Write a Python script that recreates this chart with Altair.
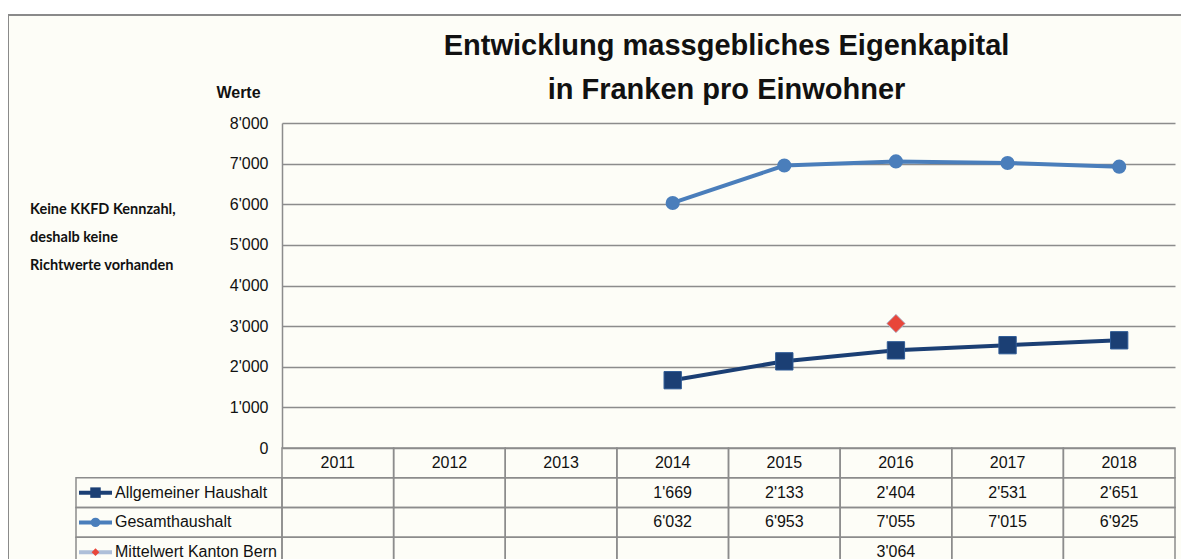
import altair as alt
import pandas as pd

# ---------------- data ----------------
years = ["2011", "2012", "2013", "2014", "2015", "2016", "2017", "2018"]
allgemein = [None, None, None, 1669, 2133, 2404, 2531, 2651]
gesamt = [None, None, None, 6032, 6953, 7055, 7015, 6925]
mittelwert = [None, None, None, None, None, 3064, None, None]
series_names = ["Allgemeiner Haushalt", "Gesamthaushalt", "Mittelwert Kanton Bern"]
series_values = [allgemein, gesamt, mittelwert]
y_ticks = [0, 1000, 2000, 3000, 4000, 5000, 6000, 7000, 8000]
title_lines = ["Entwicklung massgebliches Eigenkapital", "in Franken pro Einwohner"]
note_lines = ["Keine KKFD Kennzahl,", "deshalb keine", "Richtwerte vorhanden"]

# ---------------- styles / layout ----------------
W, H = 893, 325
YMAX = 8000
BAND = W / len(years)
PX = H / YMAX                     # pixels per value unit
ROW_PX = 29.75
ROW = ROW_PX / PX                 # table row height in value units
LEG_X0 = -206 / BAND              # left edge of legend column (x units)
NAVY = "#1B3F74"
STEEL = "#4A7EBB"
LIGHT = "#AEBFD9"
RED = "#E8463A"
GRID = "#8C8C8C"
BG = "#FDFDF7"
FONT = "Liberation Sans Narrow, Arial Narrow, Liberation Sans, Arial"
FS = 16

xs = alt.Scale(domain=[0, len(years)], nice=False, zero=False)
ys = alt.Scale(domain=[0, YMAX], nice=False, zero=False)
y_axis = alt.Axis(
    values=y_ticks, grid=True, gridColor=GRID, gridWidth=1.5,
    domainColor=GRID, domainWidth=1.5, ticks=False,
    labelExpr="replace(format(datum.value, ','), ',', \"'\")",
    labelFont=FONT, labelFontSize=FS, labelColor="#111", labelPadding=14,
    title="Werte", titleAngle=0, titleX=-44, titleY=-31, titleAlign="center",
    titleBaseline="middle", titleFont=FONT, titleFontSize=FS, titleFontWeight="bold",
    titleColor="#111",
)


def X(f):
    return alt.X(f, type="quantitative", scale=xs, axis=None)


def Y(f):
    return alt.Y(f, type="quantitative", scale=ys, axis=y_axis)


# series data
rows = []
for name, vals in zip(series_names, series_values):
    for i, (yr, v) in enumerate(zip(years, vals)):
        if v is not None:
            rows.append({"series": name, "year": yr, "x": i + 0.5, "val": v})
df = pd.DataFrame(rows)

# table cells
cells = []
for r in range(4):
    top, bot = -r * ROW, -(r + 1) * ROW
    for i in range(len(years)):
        cells.append({"x0": i, "x1": i + 1, "val": top, "y1": bot})
    if r > 0:
        cells.append({"x0": LEG_X0, "x1": 0, "val": top, "y1": bot})
cells_df = pd.DataFrame(cells)

# table texts
texts = []
for i, yr in enumerate(years):
    texts.append({"x": i + 0.5, "val": -0.5 * ROW, "label": yr})
for r, vals in enumerate(series_values, start=1):
    for i, v in enumerate(vals):
        if v is not None:
            texts.append({"x": i + 0.5, "val": -(r + 0.5) * ROW,
                          "label": f"{v:,}".replace(",", "'")})
texts_df = pd.DataFrame(texts)

leg_df = pd.DataFrame({
    "series": series_names,
    "val": [-(r + 1.5) * ROW for r in range(3)],
    "xa": [LEG_X0 + 3 / BAND] * 3,
    "xb": [LEG_X0 + 36 / BAND] * 3,
    "xm": [LEG_X0 + 19.5 / BAND] * 3,
    "xt": [LEG_X0 + 39 / BAND] * 3,
})

one = pd.DataFrame({"val": [0]})

# ---------------- layers ----------------
frame = alt.Chart(one).mark_rect(fill=None, stroke="#8A8A8A", strokeWidth=2).encode(
    x=alt.value(-274), x2=alt.value(930), y=alt.value(-108), y2=alt.value(500))
top_strip = alt.Chart(one).mark_rect(fill="white").encode(
    x=alt.value(-274), x2=alt.value(930), y=alt.value(-116), y2=alt.value(-109))

grid_layer = alt.Chart(one).mark_point(opacity=0).encode(y=Y("val"))

cell_layer = alt.Chart(cells_df).mark_rect(
    fillOpacity=0, stroke=GRID, strokeWidth=1.5).encode(
    x=X("x0"), x2="x1:Q", y=Y("val"), y2="y1:Q")

text_layer = alt.Chart(texts_df).mark_text(
    font=FONT, fontSize=FS, color="#111", baseline="middle", align="center").encode(
    x=X("x"), y=Y("val"), text="label:N")

color_scale = alt.Scale(domain=series_names, range=[NAVY, STEEL, LIGHT])

leg_lines = alt.Chart(leg_df).mark_rule(strokeWidth=4).encode(
    x=X("xa"), x2="xb:Q", y=Y("val"),
    color=alt.Color("series:N", scale=color_scale, legend=None))
leg_sq = alt.Chart(leg_df[leg_df.series == series_names[0]]).mark_point(
    shape="square", filled=True, size=110, color=NAVY, opacity=1).encode(x=X("xm"), y=Y("val"))
leg_ci = alt.Chart(leg_df[leg_df.series == series_names[1]]).mark_point(
    shape="circle", filled=True, size=90, color=STEEL, opacity=1).encode(x=X("xm"), y=Y("val"))
leg_di = alt.Chart(leg_df[leg_df.series == series_names[2]]).mark_point(
    shape="diamond", filled=True, size=60, color=RED, opacity=1).encode(x=X("xm"), y=Y("val"))
leg_text = alt.Chart(leg_df).mark_text(
    font=FONT, fontSize=FS, color="#111", align="left", baseline="middle").encode(
    x=X("xt"), y=Y("val"), text="series:N")

line_layer = alt.Chart(df[df.series != series_names[2]]).mark_line(strokeWidth=4).encode(
    x=X("x"), y=Y("val"),
    color=alt.Color("series:N", scale=color_scale, legend=None))

pts_sq = alt.Chart(df[df.series == series_names[0]]).mark_point(
    shape="square", filled=True, size=300, fill=NAVY, stroke="#2F5B96", strokeWidth=1, opacity=1).encode(
    x=X("x"), y=Y("val"))
pts_ci = alt.Chart(df[df.series == series_names[1]]).mark_point(
    shape="circle", filled=True, size=200, fill=STEEL, opacity=1).encode(
    x=X("x"), y=Y("val"))
pts_di = alt.Chart(df[df.series == series_names[2]]).mark_point(
    shape="diamond", filled=True, size=340, fill=RED, stroke="#B4C0D4", strokeWidth=1, opacity=1).encode(
    x=X("x"), y=Y("val"))

note = alt.Chart(one).mark_text(
    text=note_lines, align="left", baseline="middle", font="Lato", fontWeight="bold",
    fontSize=14.5, lineHeight=28, color="#111").encode(x=alt.value(-252), y=alt.value(87))

title = alt.Chart(one).mark_text(
    text=title_lines, align="center", baseline="middle", font=FONT, fontWeight="bold",
    fontSize=29, lineHeight=44, color="#111").encode(x=alt.value(W / 2 - 2), y=alt.value(-77))

chart = alt.layer(
    top_strip, frame, grid_layer, cell_layer, text_layer, leg_lines, leg_sq, leg_ci, leg_di,
    leg_text, line_layer, pts_sq, pts_ci, pts_di, note, title,
).properties(
    width=W, height=H,
    autosize=alt.AutoSizeParams(type="none"),
    padding={"left": 274, "top": 115, "right": 6, "bottom": 111},
    background=BG,
).configure_view(stroke=None)

chart.save("out.html", embed_options={"renderer": "svg", "actions": False})
